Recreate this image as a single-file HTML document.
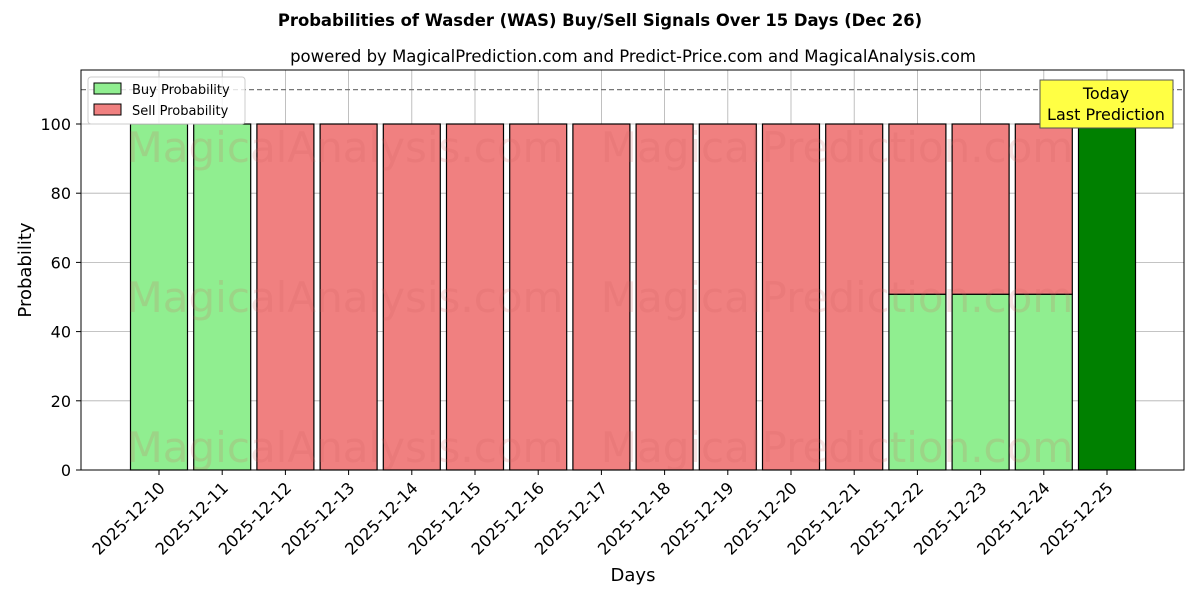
<!DOCTYPE html>
<html><head><meta charset="utf-8">
<style>
body{margin:0;background:#fff;font-family:"Liberation Sans","DejaVu Sans",sans-serif;}
svg text{font-family:"DejaVu Sans","Liberation Sans",sans-serif;}
</style></head>
<body>
<svg id="chart" width="1200" height="600" xmlns="http://www.w3.org/2000/svg">
<text x="600" y="26" text-anchor="middle" font-size="16.4" font-weight="bold">Probabilities of Wasder (WAS) Buy/Sell Signals Over 15 Days (Dec 26)</text>
<text x="633" y="62" text-anchor="middle" font-size="16.5">powered by MagicalPrediction.com and Predict-Price.com and MagicalAnalysis.com</text>
<g id="grid"></g>
<g id="bars"></g>
<g id="wm" fill="#d06060" fill-opacity="0.18" font-size="42">
<text x="345" y="162" text-anchor="middle">MagicalAnalysis.com</text>
<text x="837" y="162" text-anchor="middle">MagicalPrediction.com</text>
<text x="345" y="312" text-anchor="middle">MagicalAnalysis.com</text>
<text x="837" y="312" text-anchor="middle">MagicalPrediction.com</text>
<text x="345" y="462" text-anchor="middle">MagicalAnalysis.com</text>
<text x="837" y="462" text-anchor="middle">MagicalPrediction.com</text>
</g>
<line x1="81" y1="89.6" x2="1184" y2="89.6" stroke="#777" stroke-dasharray="5,3" stroke-width="1.2"/>
<rect x="81" y="70" width="1103" height="400" fill="none" stroke="#000" stroke-width="1"/>
<g id="axes"></g>
<text x="31" y="270" text-anchor="middle" font-size="18" transform="rotate(-90 31 270)">Probability</text>
<text x="633" y="581" text-anchor="middle" font-size="18">Days</text>
<g>
<rect x="88" y="77" width="157" height="47" fill="#fff" fill-opacity="0.8" stroke="#ccc" rx="3"/>
<rect x="94" y="83" width="27" height="11" fill="#90ee90" stroke="#000"/>
<text x="132" y="94" font-size="13">Buy Probability</text>
<rect x="94" y="104" width="27" height="11" fill="#f08080" stroke="#000"/>
<text x="132" y="115" font-size="13">Sell Probability</text>
</g>
<g>
<rect x="1040" y="80" width="133" height="48" fill="#ffff44" stroke="#555"/>
<text x="1106" y="99" text-anchor="middle" font-size="16">Today</text>
<text x="1106" y="120" text-anchor="middle" font-size="16">Last Prediction</text>
</g>
</svg>
<script>
const days=["2025-12-10","2025-12-11","2025-12-12","2025-12-13","2025-12-14","2025-12-15","2025-12-16","2025-12-17","2025-12-18","2025-12-19","2025-12-20","2025-12-21","2025-12-22","2025-12-23","2025-12-24","2025-12-25"];
const buyValues=[100,100,0,0,0,0,0,0,0,0,0,0,50.8,50.8,50.8,100];
const sellValues=[0,0,100,100,100,100,100,100,100,100,100,100,49.2,49.2,49.2,0];
const yTicks=[0,20,40,60,80,100];
const NS="http://www.w3.org/2000/svg";
const xs=i=>159+i*63.2;
const ys=v=>470-v*3.46;
const bw=57;
const grid=document.getElementById('grid'),bars=document.getElementById('bars'),axes=document.getElementById('axes');
function mk(tag,attrs,parent){const e=document.createElementNS(NS,tag);for(const k in attrs)e.setAttribute(k,attrs[k]);parent.appendChild(e);return e;}
yTicks.forEach(t=>{
 const l=mk('line',{x1:81,x2:1184,y1:ys(t),y2:ys(t),stroke:'#b0b0b0','stroke-width':0.8},grid);
 
 
 mk('line',{x1:76,x2:81,y1:ys(t),y2:ys(t),stroke:'#000'},axes);
 const tx=mk('text',{x:71,y:ys(t)+6,'text-anchor':'end','font-size':16},axes);
 tx.textContent=t;
 
 
});
days.forEach((d,i)=>{
 const x=xs(i);
 const g=mk('line',{x1:x,x2:x,y1:70,y2:470,stroke:'#b0b0b0','stroke-width':0.8},grid);
 
 
 const last=i===days.length-1;
 if(buyValues[i]>0){
  const r=mk('rect',{x:x-bw/2,y:ys(buyValues[i]),width:bw,height:ys(0)-ys(buyValues[i]),fill:last?'#008000':'#90ee90',stroke:'#000','stroke-width':1.2},bars);
  
  
 }
 if(sellValues[i]>0){
  const top=buyValues[i]+sellValues[i];
  const r=mk('rect',{x:x-bw/2,y:ys(top),width:bw,height:ys(buyValues[i])-ys(top),fill:'#f08080',stroke:'#000','stroke-width':1.2},bars);
  
  
 }
 mk('line',{x1:x,x2:x,y1:470,y2:475,stroke:'#000'},axes);
 const t=mk('text',{x:x+7,y:489,'text-anchor':'end','font-size':16.3,transform:`rotate(-45 ${x+7} 489)`},axes);
 t.textContent=d;
 
 
});
</script>
</body></html>
